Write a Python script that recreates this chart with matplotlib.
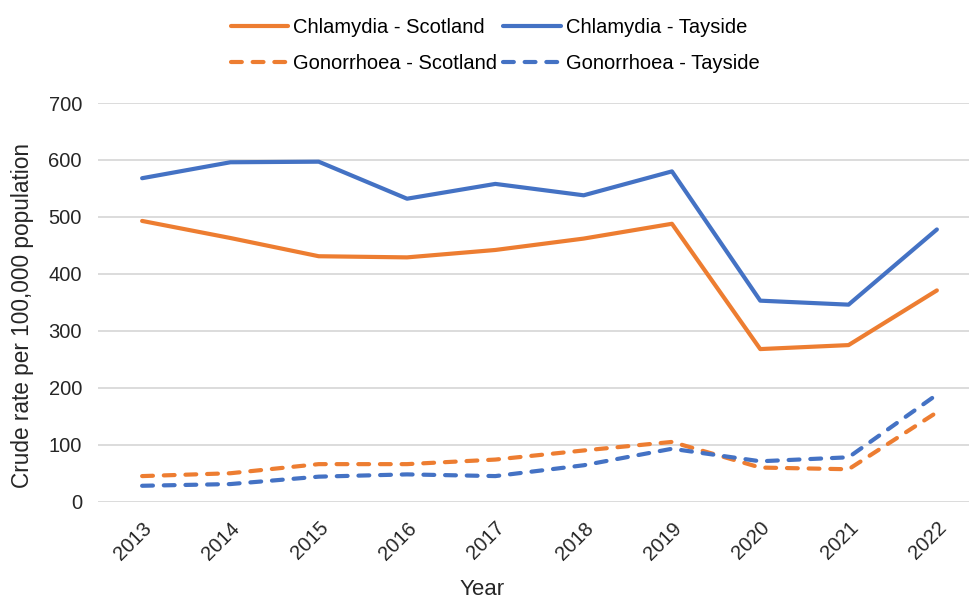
import matplotlib.pyplot as plt

plt.rcParams['font.family'] = ['Liberation Sans', 'DejaVu Sans']

years = ['2013', '2014', '2015', '2016', '2017', '2018', '2019', '2020', '2021', '2022']
chlamydia_scotland = [493, 463, 431, 429, 442, 462, 488, 268, 275, 371]
chlamydia_tayside = [568, 596, 597, 532, 558, 538, 580, 353, 346, 478]
gonorrhoea_scotland = [45, 50, 66, 66, 74, 90, 105, 60, 57, 157]
gonorrhoea_tayside = [28, 31, 44, 48, 45, 64, 93, 71, 78, 188]

ORANGE = '#ED7D31'
BLUE = '#4472C4'

fig = plt.figure(figsize=(9.69, 5.99), dpi=100)
# plot area runs slightly past the right edge, as in the reference
ax = fig.add_axes([0.1011, 0.1624, 0.9113, 0.6656])

x = range(len(years))
dash = dict(linestyle=(0, (2.6, 2.6)), dash_capstyle='round')
solid = dict(solid_capstyle='round', solid_joinstyle='round')
l1, = ax.plot(x, chlamydia_scotland, color=ORANGE, lw=3, label='Chlamydia - Scotland', **solid)
l2, = ax.plot(x, chlamydia_tayside, color=BLUE, lw=3, label='Chlamydia - Tayside', **solid)
l3, = ax.plot(x, gonorrhoea_scotland, color=ORANGE, lw=3, label='Gonorrhoea - Scotland', **dash)
l4, = ax.plot(x, gonorrhoea_tayside, color=BLUE, lw=3, label='Gonorrhoea - Tayside', **dash)

ax.set_xlim(-0.5, len(years) - 0.5)
ax.set_ylim(0, 700)
ax.set_yticks(range(0, 701, 100))
ax.set_xticks(list(x))
ax.set_xticklabels(years, rotation=45, ha='right', rotation_mode='anchor')
ax.tick_params(axis='both', length=0, labelsize=14.5, colors='#262626')
ax.tick_params(axis='y', pad=11.5)
ax.tick_params(axis='x', pad=12)

ax.grid(axis='y', color='#D9D9D9', lw=1.3)
ax.set_axisbelow(True)
for s in ax.spines.values():
    s.set_visible(False)

ax.set_ylabel('Crude rate per 100,000 population', fontsize=16.3, color='#262626')
ax.yaxis.set_label_coords(-0.073, 0.466)
ax.set_xlabel('Year', fontsize=16, color='#262626', va='top')
ax.xaxis.set_label_coords(0.435, -0.194)

# legend: two rows, solid lines on top, dashed below
fig.legend(handles=[l1, l3, l2, l4], ncol=2, loc='center', bbox_to_anchor=(0.511, 0.924),
           frameon=False, fontsize=14.5, handlelength=2.85, handletextpad=0.25,
           columnspacing=0.3, labelspacing=0.85, borderpad=0)

fig.savefig('out.png', dpi=100)
